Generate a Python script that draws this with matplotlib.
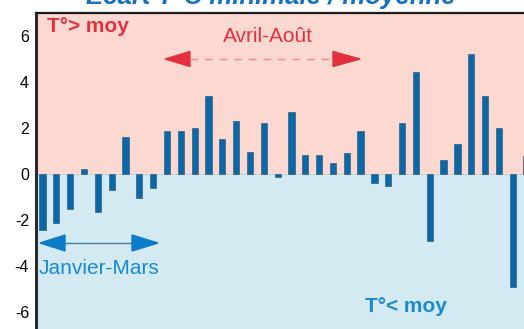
import matplotlib
matplotlib.use("Agg")
import matplotlib.pyplot as plt
from matplotlib.patches import Polygon
from matplotlib.lines import Line2D

# Data: deviation of minimum temperature from mean (°C), per period
values = [-2.45, -2.12, -1.52, 0.23, -1.64, -0.71, 1.61, -1.03, -0.60,
          1.87, 1.87, 1.99, 3.37, 1.52, 2.32, 0.94, 2.22, -0.14, 2.68,
          0.81, 0.81, 0.47, 0.93, 1.87, -0.37, -0.50, 2.22, 4.42, -2.93,
          0.60, 1.29, 5.23, 3.38, 1.99, -4.93, 0.80]
yticks = [6, 4, 2, 0, -2, -4, -6]
title = "Écart T°C minimale / moyenne"

W, H = 524, 329
plt.rcParams['font.family'] = ['Liberation Sans', 'DejaVu Sans']
fig = plt.figure(figsize=(W / 100, H / 100), dpi=100)

def px(x, y):
    return (x / W, 1 - y / H)

ax = fig.add_axes([36 / W, (H - 335) / H, (535 - 36) / W, 322 / H])
ax.set_xlim(-0.47, 35.61)
ax.set_ylim(-7, 7)
ax.axhspan(0, 7, color='#FBD9D0', zorder=0)
ax.axhspan(-7, 0, color='#D3EAF3', zorder=0)
ax.axhline(0, color='#C9C9C9', lw=0.6, zorder=1)

x = list(range(len(values)))
ax.bar(x, values, width=0.45, color='#0B67A5', edgecolor='#1F4F75',
       linewidth=0.4, zorder=2)

ax.set_yticks(yticks)
ax.set_yticklabels([str(t) for t in yticks], fontsize=11.5)
ax.tick_params(axis='y', length=0, pad=5)
ax.set_xticks([])
for s in ['right', 'bottom']:
    ax.spines[s].set_visible(False)
ax.spines['left'].set_linewidth(2.2)
ax.spines['left'].set_color('#2a2a2a')
ax.spines['top'].set_linewidth(1.6)
ax.spines['top'].set_color('#1a1a1a')

# Title (mostly cut off at top, as in the reference)
fig.text(*px(271, 4), title, ha='center', va='baseline', fontsize=18.5,
         fontweight='bold', fontstyle='italic', color='#1670C0')

# Annotations
red = '#E3303F'
blue = '#1A8AD0'
fig.text(*px(47, 27), "T°> moy", ha='left', va='center', fontsize=15,
         fontweight='bold', color=red)
fig.text(*px(268, 36), "Avril-Août", ha='center', va='center', fontsize=15,
         color=red)
fig.text(*px(39, 268), "Janvier-Mars", ha='left', va='center', fontsize=15,
         color=blue)
fig.text(*px(406, 306), "T°< moy", ha='center', va='center', fontsize=15,
         fontweight='bold', color=blue)

# Red double arrow
fig.add_artist(Line2D([px(190, 59)[0], px(333, 59)[0]], [px(190, 59)[1]] * 2,
                      color='#F08A8A', lw=1.0, dashes=(5.5, 5)))
fig.add_artist(Polygon([px(165, 59), px(190, 51.5), px(190, 66.5)],
                       closed=True, color=red))
fig.add_artist(Polygon([px(360, 59), px(333, 51.5), px(333, 66.5)],
                       closed=True, color=red))

# Blue double arrow
fig.add_artist(Line2D([px(65, 243)[0], px(132, 243)[0]], [px(65, 243)[1]] * 2,
                      color='#3A7FB0', lw=1.0))
fig.add_artist(Polygon([px(40, 243), px(65, 235), px(65, 251)],
                       closed=True, color='#0A7CC8'))
fig.add_artist(Polygon([px(158, 243), px(132, 235), px(132, 251)],
                       closed=True, color='#0A7CC8'))

fig.savefig("out.png", dpi=100)
